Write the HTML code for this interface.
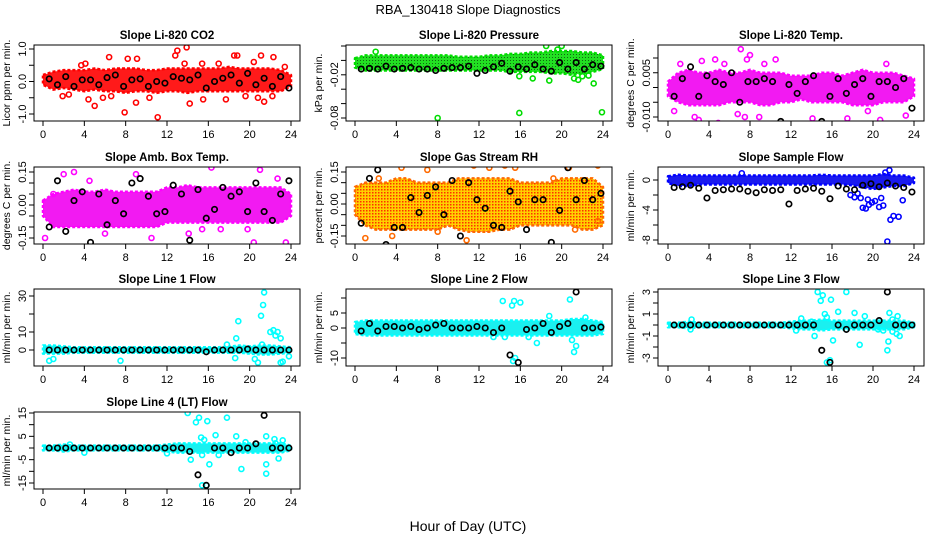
<!DOCTYPE html>
<html><head><meta charset="utf-8"><style>
html,body{margin:0;padding:0;background:#fff;}
svg{display:block;font-family:"Liberation Sans",Arial,sans-serif;}
</style></head><body>
<svg id="chart" width="936" height="540" viewBox="0 0 936 540">
<defs>
<pattern id="pat-rh" width="3" height="3" patternUnits="userSpaceOnUse"><rect width="3" height="3" fill="#ffd000"/><rect x="0" y="0" width="1.5" height="1.5" fill="#ff3000"/></pattern>
<pattern id="pat-pres" width="3" height="3" patternUnits="userSpaceOnUse"><rect width="3" height="3" fill="#22e022"/><rect x="0" y="0" width="1" height="1" fill="#116611"/></pattern>
</defs>
<text x="468" y="14" text-anchor="middle" font-size="13">RBA_130418  Slope Diagnostics</text>
<text x="468" y="531" text-anchor="middle" font-size="14">Hour of Day (UTC)</text>
</svg>
<script>
// ---------- shared data ----------
const xTickLabels = ["0","4","8","12","16","20","24"];
const bandHours = [0,1,2,3,4,5,6,7,8,9,10,11,12,13,14,15,16,17,18,19,20,21,22,23,24];
const blackHours = [0.6,1.4,2.2,3.0,3.8,4.6,5.4,6.2,7.0,7.8,8.6,9.4,10.2,11.0,11.8,12.6,13.4,14.2,15.0,15.8,16.6,17.4,18.2,19.0,19.8,20.6,21.4,22.2,23.0,23.8];

// Panel 1: CO2
const co2Low  = [-0.1,-0.25,-0.2,-0.25,-0.3,-0.25,-0.3,-0.3,-0.35,-0.3,-0.3,-0.35,-0.3,-0.3,-0.35,-0.3,-0.3,-0.3,-0.3,-0.3,-0.3,-0.3,-0.3,-0.3,-0.15];
const co2High = [0.2,0.3,0.35,0.35,0.35,0.4,0.35,0.4,0.4,0.4,0.35,0.35,0.4,0.4,0.4,0.4,0.4,0.4,0.45,0.4,0.4,0.4,0.4,0.35,0.2];
const co2OutX = [1.9,2.5,3.7,4.1,4.4,5.0,6.4,6.6,7.9,8.2,9.1,9.0,11.1,12.8,13.0,13.9,13.7,14.2,15.4,15.5,17.0,17.7,18.5,18.8,19.6,20.4,21.1,21.4,22.3,22.2,23.4,20.8,10.3,5.8];
const co2OutY = [-0.45,-0.4,0.5,0.55,-0.55,-0.75,0.75,-0.45,-0.95,0.7,0.7,-0.65,-1.1,0.8,0.95,1.05,0.55,-0.68,0.55,-0.55,0.55,-0.55,0.8,0.8,-0.45,0.6,0.8,-0.62,0.75,-0.45,0.45,-0.5,-0.5,-0.5];
const co2Black = [0.08,-0.1,0.15,-0.15,0.05,0.05,-0.1,0.12,0.2,-0.15,0.05,0.08,-0.15,0,-0.05,0.15,0.1,0.05,0.2,-0.2,0,0.1,0.2,-0.05,0.25,-0.1,0.1,-0.15,0.15,-0.2];

// Panel 2: Pressure
const presLow  = [-0.01,-0.014,-0.014,-0.014,-0.014,-0.014,-0.014,-0.014,-0.014,-0.014,-0.014,-0.014,-0.014,-0.014,-0.014,-0.016,-0.016,-0.016,-0.016,-0.018,-0.018,-0.02,-0.018,-0.016,-0.012];
const presHigh = [0.003,0.007,0.007,0.007,0.007,0.007,0.007,0.007,0.007,0.007,0.005,0.005,0.005,0.007,0.007,0.009,0.009,0.011,0.011,0.013,0.013,0.013,0.011,0.011,0.007];
const presOutX = [8.0,15.9,23.9,15.9,17.2,18.8,21.2,21.6,22.0,23.1,22.6,20.0,18.5,19.6,2.0];
const presOutY = [-0.08,-0.073,-0.072,-0.022,-0.025,-0.028,-0.025,-0.027,-0.022,-0.032,-0.021,0.02,0.02,0.015,0.012];
const presBlack = [-0.012,-0.011,-0.012,-0.008,-0.012,-0.011,-0.01,-0.012,-0.012,-0.014,-0.011,-0.01,-0.01,-0.008,-0.018,-0.014,-0.009,-0.004,-0.015,-0.009,-0.012,-0.006,-0.012,-0.015,-0.003,-0.012,-0.003,-0.012,-0.006,-0.008];

// Panel 3: Li-820 Temp
const tempLow  = [-0.003,-0.005,-0.006,-0.006,-0.006,-0.006,-0.005,-0.005,-0.005,-0.006,-0.006,-0.005,-0.005,-0.004,-0.005,-0.005,-0.005,-0.005,-0.006,-0.006,-0.006,-0.005,-0.005,-0.005,-0.003];
const tempHigh = [0.002,0.005,0.006,0.005,0.005,0.006,0.005,0.005,0.006,0.005,0.005,0.005,0.004,0.004,0.004,0.005,0.005,0.004,0.005,0.006,0.005,0.005,0.005,0.004,0.003];
const tempOutX = [1.2,3.3,4.6,5.5,7.1,7.7,8.0,9.4,10.5,2.6,3.0,4.9,6.8,7.5,8.9,14.1,17.5,20.7,21.3,23.2,0.6,19.5];
const tempOutY = [0.008,0.009,0.0095,0.008,0.013,0.0095,0.011,0.008,0.0095,-0.01,-0.011,-0.012,-0.009,-0.01,-0.01,-0.0105,-0.0105,-0.011,0.008,-0.0095,-0.008,-0.008];
const tempBlack = [-0.003,0.003,0.007,-0.003,0.004,0.002,0.001,0.005,-0.005,0.002,0.002,0.003,0.002,-0.0115,0.001,-0.002,0.002,0.004,-0.0115,-0.003,0.003,-0.002,0.001,0.003,-0.003,0.002,0.002,0.0,0.003,-0.007];

// Panel 4: Amb Box Temp
const ambLow  = [-0.05,-0.1,-0.1,-0.1,-0.1,-0.1,-0.1,-0.1,-0.1,-0.1,-0.1,-0.1,-0.08,-0.08,-0.08,-0.08,-0.08,-0.08,-0.08,-0.08,-0.08,-0.08,-0.08,-0.08,-0.05];
const ambHigh = [0.02,0.05,0.06,0.07,0.06,0.06,0.07,0.06,0.06,0.06,0.06,0.06,0.08,0.08,0.09,0.08,0.08,0.08,0.08,0.08,0.08,0.08,0.08,0.08,0.05];
const ambOutX = [0.2,2.0,3.0,4.0,4.5,6.0,9.0,10.5,13.7,14.1,16.3,17.2,19.8,20.4,21.0,22.7,23.5,23.3,15.4,1.0];
const ambOutY = [-0.15,0.14,0.15,-0.2,0.11,-0.13,0.14,-0.15,0.2,-0.13,0.17,-0.11,-0.11,-0.17,0.16,0.12,-0.17,-0.2,-0.11,0.05];
const ambBlack = [-0.1,0.11,-0.12,0.02,0.06,-0.17,0.05,-0.09,0.02,-0.04,0.1,0.12,0.04,-0.04,-0.03,0.09,0.05,-0.16,0.07,-0.06,-0.02,0.08,0.04,0.06,-0.03,0.1,-0.03,-0.07,0.05,0.11];

// Panel 5: Gas Stream RH
const rhLow  = [-0.05,-0.1,-0.12,-0.12,-0.12,-0.12,-0.12,-0.12,-0.12,-0.1,-0.12,-0.13,-0.13,-0.13,-0.12,-0.12,-0.1,-0.1,-0.1,-0.1,-0.1,-0.1,-0.12,-0.12,-0.1];
const rhHigh = [0.08,0.1,0.1,0.1,0.12,0.12,0.1,0.1,0.1,0.1,0.12,0.12,0.12,0.12,0.12,0.12,0.1,0.1,0.1,0.1,0.12,0.12,0.12,0.12,0.08];
const rhOutX = [1.0,4.3,4.5,5.7,7.0,11.5,13.0,14.5,15.5,20.7,23.5,19.2,2.3,3.6,8.0,10.8,21.3,23.5];
const rhOutY = [-0.16,-0.2,0.17,-0.23,0.16,0.18,0.17,0.18,0.17,0.17,0.18,0.12,0.12,-0.15,-0.13,-0.17,-0.12,-0.08];
const rhBlack = [-0.09,0.12,0.16,-0.19,-0.11,-0.11,0.03,-0.04,0.04,0.08,-0.05,0.11,-0.15,0.1,0.02,-0.02,-0.1,-0.11,0.06,0.01,-0.12,0.02,0.02,-0.18,-0.03,0.17,0.02,0.11,0.02,0.05];

// Panel 6: Sample Flow
const sfLow  = [-0.4,-0.8,-0.8,-0.6,-0.6,-0.6,-0.6,-0.6,-0.6,-0.6,-0.6,-0.6,-0.6,-0.6,-0.6,-0.6,-0.6,-0.6,-0.7,-1,-1.2,-1,-0.8,-0.8,-0.4];
const sfHigh = [0.5,0.7,0.6,0.6,0.6,0.6,0.6,0.6,0.6,0.6,0.6,0.6,0.6,0.6,0.6,0.7,0.6,0.6,0.6,0.6,0.6,0.8,0.6,0.6,0.3];
const sfOutX = [18.5,18.8,19.0,19.3,19.6,19.9,20.2,20.6,21.0,21.4,21.7,22.0,22.5,22.9,21.6,21.2,17.8,18.2,19.5,20.8,7.2];
const sfOutY = [-1.8,-2.4,-3.7,-3.8,-3.3,-3.0,-2.8,-3.6,-3.4,-8.2,-5.3,-4.8,-4.9,-2.7,1.3,1.0,-2.0,-2.3,-2.6,-2.4,0.9];
const sfBlack = [-1,-0.9,-0.7,-1.1,-2.4,-1.4,-1.3,-1.2,-1.2,-1.5,-1.7,-1.3,-1.4,-1.3,-3.2,-1.4,-1.2,-1.1,-1.5,-2.5,-0.8,-1.2,-1.3,-0.7,-0.5,-0.9,-0.4,-0.8,-1,-1.6];

// Panel 7: Line 1 Flow
const l1Low  = [-2,-2,-2,-1.5,-1.5,-1.5,-1.5,-1.5,-1.5,-1.5,-1.5,-1.5,-1.5,-1.5,-1.5,-1.5,-1.5,-1.5,-1.5,-1.5,-2,-2.5,-2.5,-2,-1.5];
const l1High = [2.5,2.5,2,1.5,1.5,1.5,1.5,1.5,1.5,1.5,1.5,1.5,1.5,1.5,1.5,1.5,1.5,1.5,1.8,2.5,2,2.5,2.5,2,1.5];
const l1OutX = [0.6,1.0,7.5,18.7,18.9,18.6,20.5,20.8,21.1,21.3,21.4,21.2,22.0,22.3,22.5,22.7,23.0,23.2,23.0,23.8,17.8];
const l1OutY = [-6,-5,-6,6.5,16,-4.5,-5,-7,19,25,32,3,10,11,8,10,6.5,-6.5,-7,-3.5,3];
const l1Black = [0,0,0,0,0,0,0,0,0,0,0,0,0,0,0,0,0,0,0,-1,0,0,0,0,0.5,0,0,0,0,0];

// Panel 8: Line 2 Flow
const l2Low  = [-2,-2.5,-2.5,-2.5,-2.5,-2.5,-2.5,-2.5,-2.5,-2.5,-2.5,-2.5,-2.5,-2.5,-2.5,-2.5,-2.5,-2.5,-2.5,-2.5,-2.5,-2.5,-2.5,-2.5,-2];
const l2High = [2,2.5,2.5,2.5,2.5,2.5,2.5,2.5,2.5,2.5,2.5,2.5,2.5,2.5,2.5,2.5,2.5,2.5,2.5,2.5,2.5,3,3,2.5,2];
const l2OutX = [14.3,15.2,15.4,16.0,20.8,15.3,15.5,18.8,17.6,21.2,21.4,21.0,16.8,13.4,22.3,14.5];
const l2OutY = [9,7.5,9,8.5,9.5,-11,-10,4,-5,-8,-6,-4,-3,-3,3.5,-3];
const l2Black = [-1,1.5,-1,0.5,0.5,0,0.5,-0.5,0,1,1.5,0,0,0,0.5,0,-1.5,0,-9,-11.5,-0.5,0,1.5,-1.5,0.5,1.5,12,0,0,0.3];

// Panel 9: Line 3 Flow
const l3Low  = [-0.2,-0.2,-0.3,-0.2,-0.2,-0.2,-0.2,-0.2,-0.2,-0.2,-0.2,-0.2,-0.3,-0.4,-0.4,-0.5,-0.4,-0.4,-0.4,-0.4,-0.4,-0.4,-0.4,-0.4,-0.2];
const l3High = [0.2,0.2,0.3,0.2,0.2,0.2,0.2,0.2,0.2,0.2,0.2,0.2,0.3,0.4,0.4,0.5,0.4,0.4,0.4,0.4,0.4,0.4,0.4,0.4,0.2];
const l3OutX = [2.2,2.3,13.0,12.5,14.3,15.5,15.8,14.6,15.1,14.9,15.9,15.3,15.5,16.1,16.6,17.4,18.2,18.7,19.2,20.5,21.0,21.4,21.5,21.6,21.9,22.3,22.4,22.6,21.9,14.0];
const l3OutY = [-0.4,0.5,0.6,-0.5,-1,-3.4,-3.2,3,2.7,2.2,2.3,1,0.7,-1.4,1.2,3,1.1,-1.8,0.8,-0.4,-0.5,-2.3,-1.5,1.1,-0.6,-0.8,0.8,-1,0.5,0.3];
const l3Black = [0,0,0,0,0,0,0,0,0,0,0,0,0,0,0,0,0,0,-2.3,-3.4,0,-0.4,0,0,0,0.4,3,0,0,0];

// Panel 10: Line 4 (LT) Flow
const l4Low  = [-1,-1,-1.5,-1,-1,-1,-1,-1,-1,-1,-1,-1,-1.5,-2,-2,-2,-2,-2,-2,-2,-2,-2,-2,-2,-1];
const l4High = [1,1,1.5,1,1,1,1,1,1,1,1,1,1.5,2,2,2,2,2,2,2,2,2,2,2,1];
const l4OutX = [14.0,14.8,15.1,15.3,15.6,15.9,16.1,16.7,17.0,14.3,15.4,15.4,15.8,17.8,18.7,19.2,19.6,21.6,21.6,21.6,22.4,22.8,23.2,22.5,4.0,2.6,12.0];
const l4OutY = [15,11,13,4.5,3.5,11.5,-7,5.5,-3,-5,-3,-16,-16,13,5,-9,2.5,-11,5,-7,3.8,-4.5,3.3,2,-2,1.5,-2.3];
const l4Black = [0,0,0,0,0,0,0,0,0,0,0,0,0,0,0,0,0,-1.5,-11.5,-16,0,0,-2,0,0,1.8,14,0,0,0];

// ---------- layout ----------
const cols = [{l:34,r:300,x0:43,x24:291},{l:346,r:612,x0:355,x24:603},{l:658,r:924,x0:668,x24:914}];
const rows = [{t:45,b:121},{t:167,b:244},{t:289,b:366},{t:412,b:489}];

const panels = [
 {id:"co2",title:"Slope Li-820 CO2",ylab:"Licor ppm per min.",c:0,r:0,color:"#ff0000",band:"#ff1a1a",
  cal:[1,49,-1,114],ticks:[-1,-0.5,0,0.5,1],labs:[[-1,"-1.0"],[0,"0.0"],[1,"1.0"]],
  low:co2Low,high:co2High,ox:co2OutX,oy:co2OutY,bk:co2Black},
 {id:"pressure",title:"Slope Li-820 Pressure",ylab:"kPa per min.",c:1,r:0,color:"#00dd00",band:"url(#pat-pres)",
  cal:[0.02,46,-0.08,118],ticks:[0.02,0,-0.02,-0.04,-0.06,-0.08],labs:[[-0.02,"-0.02"],[-0.08,"-0.08"]],
  low:presLow,high:presHigh,ox:presOutX,oy:presOutY,bk:presBlack},
 {id:"li820-temp",title:"Slope Li-820 Temp.",ylab:"degrees C per min.",c:2,r:0,color:"#ff00ff",band:"#f21af2",
  cal:[0.01,58,-0.01,117],ticks:[0.01,0.005,0,-0.005,-0.01],labs:[[0.005,"0.005"],[-0.01,"-0.010"]],
  low:tempLow,high:tempHigh,ox:tempOutX,oy:tempOutY,bk:tempBlack},
 {id:"amb-temp",title:"Slope Amb. Box Temp.",ylab:"degrees C per min.",c:0,r:1,color:"#ff00ff",band:"#f21af2",
  cal:[0.15,172,-0.15,238],ticks:[0.15,0.1,0.05,0,-0.05,-0.1,-0.15],labs:[[0.15,"0.15"],[0,"0.00"],[-0.15,"-0.15"]],
  low:ambLow,high:ambHigh,ox:ambOutX,oy:ambOutY,bk:ambBlack},
 {id:"rh",title:"Slope Gas Stream RH",ylab:"percent per min.",c:1,r:1,color:"#ff6a00",band:"url(#pat-rh)",
  cal:[0.15,172,-0.15,236],ticks:[0.15,0.1,0.05,0,-0.05,-0.1,-0.15],labs:[[0.15,"0.15"],[0,"0.00"],[-0.15,"-0.15"]],
  low:rhLow,high:rhHigh,ox:rhOutX,oy:rhOutY,bk:rhBlack},
 {id:"sample-flow",title:"Slope Sample Flow",ylab:"ml/min per min.",c:2,r:1,color:"#0000ff",band:"#1a1aee",
  cal:[0,180,-8,240],ticks:[0,-2,-4,-6,-8],labs:[[0,"0"],[-4,"-4"],[-8,"-8"]],
  low:sfLow,high:sfHigh,ox:sfOutX,oy:sfOutY,bk:sfBlack},
 {id:"line1",title:"Slope Line 1 Flow",ylab:"ml/min per min.",c:0,r:2,color:"#00ffff",band:"#1af0f0",
  cal:[30,296,0,350],ticks:[0,10,20,30],labs:[[0,"0"],[10,"10"],[30,"30"]],
  low:l1Low,high:l1High,ox:l1OutX,oy:l1OutY,bk:l1Black},
 {id:"line2",title:"Slope Line 2 Flow",ylab:"ml/min per min.",c:1,r:2,color:"#00ffff",band:"#1af0f0",
  cal:[5,313,-10,358],ticks:[10,5,0,-5,-10],labs:[[5,"5"],[0,"0"],[-10,"-10"]],
  low:l2Low,high:l2High,ox:l2OutX,oy:l2OutY,bk:l2Black},
 {id:"line3",title:"Slope Line 3 Flow",ylab:"ml/min per min.",c:2,r:2,color:"#00ffff",band:"#1af0f0",
  cal:[1,314,-1,336],ticks:[3,2,1,0,-1,-2,-3],labs:[[3,"3"],[1,"1"],[-1,"-1"],[-3,"-3"]],
  low:l3Low,high:l3High,ox:l3OutX,oy:l3OutY,bk:l3Black},
 {id:"line4",title:"Slope Line 4 (LT) Flow",ylab:"ml/min per min.",c:0,r:3,color:"#00ffff",band:"#1af0f0",
  cal:[15,413,-15,483],ticks:[15,10,5,0,-5,-10,-15],labs:[[15,"15"],[5,"5"],[-5,"-5"],[-15,"-15"]],
  low:l4Low,high:l4High,ox:l4OutX,oy:l4OutY,bk:l4Black}
];

const NS="http://www.w3.org/2000/svg";
const svg=document.getElementById('chart');
function mk(tag,attrs,parent){const e=document.createElementNS(NS,tag);for(const k in attrs)e.setAttribute(k,attrs[k]);(parent||svg).appendChild(e);return e;}

panels.forEach(p=>{
  const C=cols[p.c],R=rows[p.r];
  const xs=h=>C.x0+(C.x24-C.x0)*h/24;
  const ys=v=>p.cal[1]+(v-p.cal[0])*(p.cal[3]-p.cal[1])/(p.cal[2]-p.cal[0]);
  const g=mk('g',{});
  
  
  const clipId='clip-'+p.id;
  const cp=mk('clipPath',{id:clipId},g);
  mk('rect',{x:C.l,y:R.t,width:C.r-C.l,height:R.b-R.t},cp);
  const t=mk('text',{x:(C.l+C.r)/2,y:R.t-6,'text-anchor':'middle','font-size':'11.5','font-weight':'bold'},g);
  t.textContent=p.title;
  
  
  const yl=mk('text',{x:0,y:0,'text-anchor':'middle','font-size':'10.5',transform:`translate(${C.l-24},${(R.t+R.b)/2}) rotate(-90)`},g);
  yl.textContent=p.ylab;
  
  
  const dg=mk('g',{'clip-path':`url(#${clipId})`},g);
  
  
  let pts=[];
  bandHours.forEach((h,i)=>pts.push(xs(h)+','+ys(p.high[i])));
  for(let i=bandHours.length-1;i>=0;i--)pts.push(xs(bandHours[i])+','+ys(p.low[i]));
  const band=mk('polygon',{points:pts.join(' '),fill:p.band,stroke:p.color,'stroke-width':'2.5','stroke-linejoin':'round','stroke-dasharray':'3 2'},dg);
  
  
  p.ox.forEach((h,i)=>{
    const c=mk('circle',{cx:xs(h),cy:ys(p.oy[i]),r:2.5,fill:'none',stroke:p.color,'stroke-width':'1.6'},dg);
    
    
  });
  blackHours.forEach((h,i)=>{
    const c=mk('circle',{cx:xs(h),cy:ys(p.bk[i]),r:2.7,fill:'none',stroke:'#000','stroke-width':'1.7'},dg);
    
    
  });
  const bx=mk('rect',{x:C.l,y:R.t,width:C.r-C.l,height:R.b-R.t,fill:'none',stroke:'#000','stroke-width':'1'},g);
  
  
  xTickLabels.forEach((lab,i)=>{
    const h=i*4,x=xs(h);
    mk('line',{x1:x,y1:R.b,x2:x,y2:R.b+5,stroke:'#000'},g);
    const tx=mk('text',{x:x,y:R.b+17,'text-anchor':'middle','font-size':'11'},g);
    tx.textContent=lab;
    
    
  });
  p.ticks.forEach(v=>{const y=ys(v);mk('line',{x1:C.l-5,y1:y,x2:C.l,y2:y,stroke:'#000'},g);});
  p.labs.forEach(([v,lab])=>{
    const y=ys(v);
    const tx=mk('text',{x:0,y:0,'text-anchor':'middle','font-size':'11',transform:`translate(${C.l-8},${y}) rotate(-90)`},g);
    tx.textContent=lab;
    
    
  });
});
</script>
</body></html>
